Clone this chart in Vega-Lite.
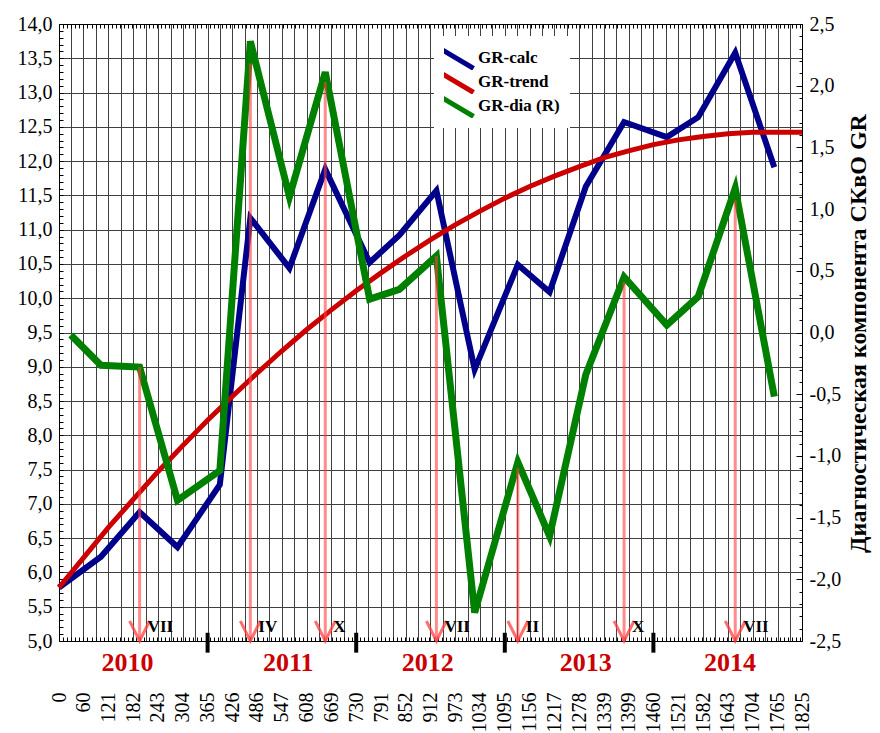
{
  "$schema": "https://vega.github.io/schema/vega-lite/v6.json",
  "width": 743,
  "height": 617,
  "autosize": {"type": "none"},
  "padding": {"left": 59, "top": 24, "right": 78, "bottom": 92},
  "background": "white",
  "config": {
    "view": {"stroke": null},
    "font": "Liberation Serif",
    "axis": {"labelFont": "Liberation Serif", "titleFont": "Liberation Serif", "labelColor": "black", "titleColor": "black", "tickColor": "black", "domainColor": "black", "domainWidth": 1, "labelFontSize": 20, "gridColor": "#404040", "gridWidth": 1, "gridOpacity": 1}
  },
  "datasets": {
    "calc": [
      {"day": 0, "v": 5.78}, {"day": 103, "v": 6.23}, {"day": 198, "v": 6.88}, {"day": 291, "v": 6.37},
      {"day": 395, "v": 7.28}, {"day": 470, "v": 11.17}, {"day": 566, "v": 10.44}, {"day": 654, "v": 11.88},
      {"day": 763, "v": 10.52}, {"day": 836, "v": 10.92}, {"day": 927, "v": 11.57}, {"day": 1021, "v": 8.96},
      {"day": 1127, "v": 10.49}, {"day": 1205, "v": 10.09}, {"day": 1294, "v": 11.63}, {"day": 1388, "v": 12.57},
      {"day": 1493, "v": 12.35}, {"day": 1570, "v": 12.64}, {"day": 1661, "v": 13.58}, {"day": 1757, "v": 11.91}
    ],
    "trend": [
      {"day": 0, "v": 5.78}, {"day": 61, "v": 6.22}, {"day": 122, "v": 6.66}, {"day": 183, "v": 7.07},
      {"day": 243, "v": 7.47}, {"day": 304, "v": 7.85}, {"day": 365, "v": 8.22}, {"day": 426, "v": 8.57},
      {"day": 487, "v": 8.91}, {"day": 547, "v": 9.23}, {"day": 608, "v": 9.54}, {"day": 669, "v": 9.83},
      {"day": 730, "v": 10.11}, {"day": 791, "v": 10.37}, {"day": 852, "v": 10.62}, {"day": 912, "v": 10.85},
      {"day": 973, "v": 11.07}, {"day": 1034, "v": 11.27}, {"day": 1095, "v": 11.46}, {"day": 1156, "v": 11.63},
      {"day": 1217, "v": 11.78}, {"day": 1278, "v": 11.92}, {"day": 1339, "v": 12.05}, {"day": 1399, "v": 12.15},
      {"day": 1460, "v": 12.24}, {"day": 1521, "v": 12.31}, {"day": 1582, "v": 12.36}, {"day": 1643, "v": 12.4},
      {"day": 1704, "v": 12.42}, {"day": 1765, "v": 12.42}, {"day": 1825, "v": 12.42}
    ],
    "dia": [
      {"day": 29, "r": -0.02}, {"day": 103, "r": -0.265}, {"day": 198, "r": -0.28}, {"day": 291, "r": -1.36},
      {"day": 395, "r": -1.12}, {"day": 470, "r": 2.36}, {"day": 566, "r": 1.1}, {"day": 654, "r": 2.11},
      {"day": 763, "r": 0.27}, {"day": 836, "r": 0.35}, {"day": 927, "r": 0.62}, {"day": 1021, "r": -2.27},
      {"day": 1127, "r": -1.05}, {"day": 1205, "r": -1.65}, {"day": 1294, "r": -0.34}, {"day": 1388, "r": 0.45},
      {"day": 1493, "r": 0.06}, {"day": 1570, "r": 0.29}, {"day": 1661, "r": 1.17}, {"day": 1757, "r": -0.52}
    ],
    "arrows": [
      {"day": 198, "top": -0.28, "label": "VII"}, {"day": 470, "top": 2.18, "label": "IV"},
      {"day": 654, "top": 2.03, "label": "X"}, {"day": 927, "top": 0.62, "label": "VII"},
      {"day": 1127, "top": -1.1, "label": "II"}, {"day": 1388, "top": 0.41, "label": "X"},
      {"day": 1661, "top": 1.07, "label": "VII"}
    ],
    "years": [
      {"day": 168, "year": "2010"}, {"day": 563, "year": "2011"}, {"day": 906, "year": "2012"},
      {"day": 1294, "year": "2013"}, {"day": 1648, "year": "2014"}
    ],
    "bounds": [{"day": 365}, {"day": 730}, {"day": 1095}, {"day": 1460}]
  },
  "layer": [
    {
      "layer": [
        {
          "data": {"name": "calc"},
          "mark": {"type": "line", "strokeWidth": 6},
          "encoding": {
            "x": {"field": "day", "type": "quantitative", "scale": {"domain": [0, 1825], "nice": false, "zero": false},
              "axis": {"orient": "bottom", "title": null, "grid": true, "ticks": false, "domain": true, "labelFlush": false, "labelOverlap": false,
                "values": [0, 30, 60, 91, 121, 152, 182, 213, 243, 274, 304, 335, 365, 395, 426, 456, 486, 517, 547, 578, 608, 639, 669, 700, 730, 760, 791, 821, 852, 882, 912, 943, 973, 1004, 1034, 1064, 1095, 1125, 1156, 1186, 1217, 1247, 1278, 1308, 1339, 1369, 1399, 1430, 1460, 1490, 1521, 1551, 1582, 1612, 1643, 1673, 1704, 1734, 1765, 1795, 1825],
                "labelExpr": "indexof([0,60,121,182,243,304,365,426,486,547,608,669,730,791,852,912,973,1034,1095,1156,1217,1278,1339,1399,1460,1521,1582,1643,1704,1765,1825], datum.value) >= 0 ? '' + datum.value : ''",
                "labelAngle": 270, "labelPadding": 51, "labelFont": "Liberation Serif", "labelFontSize": 20}},
            "y": {"field": "v", "type": "quantitative", "scale": {"domain": [5, 14], "nice": false, "zero": false},
              "axis": {"orient": "left", "title": null, "grid": true, "ticks": false, "domain": true,
                "values": [5, 5.5, 6, 6.5, 7, 7.5, 8, 8.5, 9, 9.5, 10, 10.5, 11, 11.5, 12, 12.5, 13, 13.5, 14],
                "labelExpr": "replace(format(datum.value, '.1f'), '.', ',')", "labelPadding": 7, "labelFont": "Liberation Serif", "labelFontSize": 20, "labelFlush": false}},
            "color": {"datum": "GR-calc", "scale": {"domain": ["GR-calc", "GR-trend", "GR-dia (R)"], "range": ["#00008b", "#cc0000", "#008000"]},
              "legend": {"title": null, "orient": "none", "legendX": 375, "legendY": 12, "fillColor": "white", "padding": 10, "labelFont": "Liberation Serif", "labelFontSize": 17, "labelFontWeight": "bold", "labelColor": "black", "symbolType": "M-1.85,-1.1L1.85,1.1", "symbolSize": 361, "symbolStrokeWidth": 5, "labelOffset": 10, "rowPadding": 0, "clipHeight": 24}}
          }
        },
        {
          "data": {"name": "trend"},
          "mark": {"type": "line", "strokeWidth": 5},
          "encoding": {
            "x": {"field": "day", "type": "quantitative", "scale": {"domain": [0, 1825], "nice": false, "zero": false},
              "axis": {"orient": "top", "title": null, "grid": false, "labels": false, "ticks": true, "tickCount": 180, "tickSize": -4, "domain": true}},
            "y": {"field": "v", "type": "quantitative", "scale": {"domain": [5, 14], "nice": false, "zero": false},
              "axis": {"orient": "left", "title": null, "grid": false, "labels": false, "ticks": true, "tickCount": 90, "tickSize": -4, "domain": false}},
            "color": {"datum": "GR-trend",
              "legend": {"title": null, "orient": "none", "legendX": 375, "legendY": 12, "fillColor": "white", "padding": 10, "labelFont": "Liberation Serif", "labelFontSize": 17, "labelFontWeight": "bold", "labelColor": "black", "symbolType": "M-1.85,-1.1L1.85,1.1", "symbolSize": 361, "symbolStrokeWidth": 5, "labelOffset": 10, "rowPadding": 0, "clipHeight": 24}}
          }
        },
        {
          "data": {"name": "years"},
          "mark": {"type": "text", "font": "Liberation Serif", "fontSize": 26, "fontWeight": "bold", "color": "#cc0000", "align": "center", "baseline": "middle"},
          "encoding": {
            "x": {"field": "day", "type": "quantitative", "axis": null},
            "y": {"datum": 4.68, "type": "quantitative", "axis": null},
            "text": {"field": "year"}
          }
        },
        {
          "data": {"name": "bounds"},
          "mark": {"type": "rule", "color": "black", "strokeWidth": 4},
          "encoding": {
            "x": {"field": "day", "type": "quantitative", "axis": null},
            "y": {"datum": 4.83, "type": "quantitative", "axis": null},
            "y2": {"datum": 5.12}
          }
        }
      ],
      "resolve": {"axis": {"x": "independent", "y": "independent"}}
    },
    {
      "layer": [
        {
          "data": {"name": "dia"},
          "mark": {"type": "line", "strokeWidth": 7},
          "encoding": {
            "x": {"field": "day", "type": "quantitative", "scale": {"domain": [0, 1825], "nice": false, "zero": false},
              "axis": {"orient": "bottom", "title": null, "grid": false, "labels": false, "ticks": true, "tickCount": 180, "tickSize": -4, "domain": false}},
            "y": {"field": "r", "type": "quantitative", "scale": {"domain": [-2.5, 2.5], "nice": false, "zero": false},
              "axis": {"orient": "right", "grid": false, "ticks": false, "domain": true,
                "values": [-2.5, -2, -1.5, -1, -0.5, 0, 0.5, 1, 1.5, 2, 2.5],
                "labelExpr": "(datum.value < 0 ? '-' : '') + replace(format(abs(datum.value), '.1f'), '.', ',')",
                "labelPadding": 7, "labelFont": "Liberation Serif", "labelFontSize": 20, "labelFlush": false,
                "title": "Диагностическая компонента СКвО  GR", "titleFont": "Liberation Serif", "titleAngle": 270, "titleFontSize": 24, "titleFontWeight": "bold",
                "titleX": 56, "titleY": 309, "titleAlign": "center", "titleBaseline": "middle"}},
            "color": {"datum": "GR-dia (R)",
              "legend": {"title": null, "orient": "none", "legendX": 375, "legendY": 12, "fillColor": "white", "padding": 10, "labelFont": "Liberation Serif", "labelFontSize": 17, "labelFontWeight": "bold", "labelColor": "black", "symbolType": "M-1.85,-1.1L1.85,1.1", "symbolSize": 361, "symbolStrokeWidth": 5, "labelOffset": 10, "rowPadding": 0, "clipHeight": 24}}
          }
        },
        {
          "data": {"name": "arrows"},
          "mark": {"type": "rule", "color": "#ff4040", "strokeWidth": 3, "opacity": 0.6},
          "encoding": {
            "x": {"field": "day", "type": "quantitative", "axis": null},
            "y": {"field": "top", "type": "quantitative",
              "axis": {"orient": "right", "title": null, "grid": false, "labels": false, "ticks": true, "tickCount": 50, "tickSize": -3, "domain": false}},
            "y2": {"datum": -2.5}
          }
        },
        {
          "data": {"name": "arrows"},
          "mark": {"type": "point", "shape": "M-1,-2L0,0L1,-2", "size": 400, "filled": false, "color": "#ff4040", "strokeWidth": 3, "opacity": 0.75},
          "encoding": {
            "x": {"field": "day", "type": "quantitative", "axis": null},
            "y": {"datum": -2.5, "type": "quantitative",
              "axis": {"orient": "right", "title": null, "grid": false, "labels": false, "ticks": true, "values": [-2.5, -2, -1.5, -1, -0.5, 0, 0.5, 1, 1.5, 2, 2.5], "tickSize": -6, "domain": false}}
          }
        },
        {
          "data": {"name": "arrows"},
          "mark": {"type": "text", "font": "Liberation Serif", "fontSize": 17, "fontWeight": "bold", "color": "black", "align": "left", "baseline": "middle", "dx": 8},
          "encoding": {
            "x": {"field": "day", "type": "quantitative", "axis": null},
            "y": {"datum": -2.39, "type": "quantitative", "axis": null},
            "text": {"field": "label"}
          }
        }
      ],
      "resolve": {"axis": {"x": "independent", "y": "independent"}}
    }
  ],
  "resolve": {"scale": {"y": "independent"}, "axis": {"x": "independent", "y": "independent"}}
}
